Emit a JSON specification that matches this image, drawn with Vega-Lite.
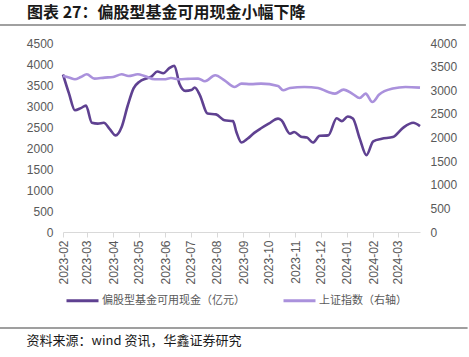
{
  "$schema": "https://vega.github.io/schema/vega-lite/v6.json",
  "width": 357,
  "height": 189,
  "autosize": {"type": "none"},
  "padding": {"left": 63, "top": 43, "right": 49, "bottom": 125},
  "background": "white",
  "config": {"view": {"stroke": null}, "font": "Liberation Sans"},
  "title": {
    "text": "图表 27：偏股型基金可用现金小幅下降",
    "anchor": "start",
    "frame": "group",
    "dx": -36,
    "font": "Noto Sans CJK SC",
    "fontSize": 16,
    "fontWeight": "bold",
    "color": "#1a1a1a",
    "offset": 3
  },
  "datasets": {
    "cash": [
      {"date": "2023-02-01", "value": 3750},
      {"date": "2023-02-08", "value": 3300},
      {"date": "2023-02-15", "value": 2900},
      {"date": "2023-02-22", "value": 2950},
      {"date": "2023-02-28", "value": 3010},
      {"date": "2023-03-07", "value": 2600},
      {"date": "2023-03-14", "value": 2580},
      {"date": "2023-03-21", "value": 2600},
      {"date": "2023-03-28", "value": 2450},
      {"date": "2023-04-04", "value": 2300},
      {"date": "2023-04-11", "value": 2500},
      {"date": "2023-04-18", "value": 3000},
      {"date": "2023-04-25", "value": 3420},
      {"date": "2023-05-02", "value": 3580},
      {"date": "2023-05-09", "value": 3650},
      {"date": "2023-05-16", "value": 3700},
      {"date": "2023-05-23", "value": 3820},
      {"date": "2023-05-30", "value": 3780},
      {"date": "2023-06-06", "value": 3900},
      {"date": "2023-06-12", "value": 3960},
      {"date": "2023-06-18", "value": 3530},
      {"date": "2023-06-25", "value": 3360},
      {"date": "2023-07-02", "value": 3380},
      {"date": "2023-07-06", "value": 3440},
      {"date": "2023-07-12", "value": 3260},
      {"date": "2023-07-21", "value": 2820},
      {"date": "2023-07-31", "value": 2800},
      {"date": "2023-08-10", "value": 2660},
      {"date": "2023-08-20", "value": 2640},
      {"date": "2023-08-24", "value": 2380},
      {"date": "2023-08-30", "value": 2130},
      {"date": "2023-09-06", "value": 2220},
      {"date": "2023-09-14", "value": 2360},
      {"date": "2023-09-22", "value": 2470},
      {"date": "2023-10-01", "value": 2580},
      {"date": "2023-10-12", "value": 2700},
      {"date": "2023-10-16", "value": 2660},
      {"date": "2023-10-26", "value": 2340},
      {"date": "2023-10-31", "value": 2380},
      {"date": "2023-11-08", "value": 2270},
      {"date": "2023-11-15", "value": 2250},
      {"date": "2023-11-22", "value": 2130},
      {"date": "2023-11-30", "value": 2290},
      {"date": "2023-12-10", "value": 2300},
      {"date": "2023-12-20", "value": 2710},
      {"date": "2023-12-26", "value": 2640},
      {"date": "2024-01-02", "value": 2750},
      {"date": "2024-01-08", "value": 2700},
      {"date": "2024-01-16", "value": 2230},
      {"date": "2024-01-24", "value": 1830},
      {"date": "2024-02-01", "value": 2160},
      {"date": "2024-02-11", "value": 2220},
      {"date": "2024-02-24", "value": 2260},
      {"date": "2024-03-07", "value": 2480},
      {"date": "2024-03-19", "value": 2600},
      {"date": "2024-03-27", "value": 2520}
    ],
    "sse": [
      {"date": "2023-02-01", "value": 3300},
      {"date": "2023-02-08", "value": 3270},
      {"date": "2023-02-15", "value": 3232},
      {"date": "2023-02-22", "value": 3280},
      {"date": "2023-03-01", "value": 3338},
      {"date": "2023-03-10", "value": 3247},
      {"date": "2023-03-22", "value": 3268},
      {"date": "2023-04-01", "value": 3280},
      {"date": "2023-04-11", "value": 3338},
      {"date": "2023-04-19", "value": 3302},
      {"date": "2023-04-30", "value": 3338},
      {"date": "2023-05-08", "value": 3302},
      {"date": "2023-05-20", "value": 3232},
      {"date": "2023-05-31", "value": 3232},
      {"date": "2023-06-08", "value": 3259},
      {"date": "2023-06-18", "value": 3232},
      {"date": "2023-06-28", "value": 3240},
      {"date": "2023-07-10", "value": 3247},
      {"date": "2023-07-18", "value": 3189},
      {"date": "2023-07-30", "value": 3316},
      {"date": "2023-08-10", "value": 3211},
      {"date": "2023-08-22", "value": 3069},
      {"date": "2023-08-30", "value": 3141},
      {"date": "2023-09-10", "value": 3130},
      {"date": "2023-09-22", "value": 3141},
      {"date": "2023-10-12", "value": 3090},
      {"date": "2023-10-18", "value": 2999},
      {"date": "2023-10-26", "value": 3048},
      {"date": "2023-11-12", "value": 3069},
      {"date": "2023-11-28", "value": 3048},
      {"date": "2023-12-10", "value": 2963},
      {"date": "2023-12-18", "value": 2929},
      {"date": "2023-12-28", "value": 3014},
      {"date": "2024-01-08", "value": 2920},
      {"date": "2024-01-16", "value": 2836},
      {"date": "2024-01-23", "value": 2929},
      {"date": "2024-01-31", "value": 2751},
      {"date": "2024-02-08", "value": 2908},
      {"date": "2024-02-24", "value": 3035},
      {"date": "2024-03-10", "value": 3069},
      {"date": "2024-03-27", "value": 3056}
    ]
  },
  "layer": [
    {
      "data": {"name": "cash"},
      "mark": {"type": "line", "interpolate": "monotone", "strokeWidth": 2.6},
      "encoding": {
        "x": {
          "field": "date",
          "type": "temporal",
          "scale": {
            "type": "utc",
            "nice": false,
            "domain": [
              {"year": 2023, "month": 2, "date": 1, "utc": true},
              {"year": 2024, "month": 3, "date": 27, "utc": true}
            ]
          },
          "axis": {
            "format": "%Y-%m",
            "labelAngle": -90,
            "tickCount": {"interval": "month", "step": 1},
            "grid": false,
            "domainColor": "#d9d9d9",
            "tickColor": "#d9d9d9",
            "tickSize": 5,
            "labelColor": "#595959",
            "labelFont": "Liberation Sans",
            "labelFontSize": 12,
            "labelPadding": 3,
            "title": "资料来源：wind 资讯，华鑫证券研究",
            "titleX": -37,
            "titleY": 108,
            "titleAngle": 0,
            "titleAlign": "left",
            "titleBaseline": "middle",
            "titleFont": "Noto Sans CJK SC",
            "titleFontSize": 13,
            "titleFontWeight": "normal",
            "titleColor": "#1a1a1a"
          }
        },
        "y": {
          "field": "value",
          "type": "quantitative",
          "scale": {"domain": [0, 4500], "nice": false},
          "axis": {
            "orient": "left",
            "values": [0, 500, 1000, 1500, 2000, 2500, 3000, 3500, 4000, 4500],
            "format": "d",
            "grid": false,
            "domain": false,
            "ticks": false,
            "labelPadding": 10,
            "labelColor": "#595959",
            "labelFont": "Liberation Sans",
            "labelFontSize": 12,
            "title": null
          }
        },
        "color": {
          "datum": "偏股型基金可用现金（亿元）",
          "scale": {
            "domain": ["偏股型基金可用现金（亿元）", "上证指数（右轴）"],
            "range": ["#5f4191", "#aa91dc"]
          },
          "legend": {
            "orient": "none",
            "legendX": 2,
            "legendY": 240,
            "direction": "horizontal",
            "columns": 2,
            "title": null,
            "symbolType": "stroke",
            "symbolSize": 1024,
            "symbolStrokeWidth": 3,
            "labelFont": "Noto Sans CJK SC",
            "labelFontSize": 11,
            "labelColor": "#595959",
            "labelOffset": 2,
            "columnPadding": 32
          }
        }
      }
    },
    {
      "data": {"name": "sse"},
      "mark": {"type": "line", "interpolate": "monotone", "strokeWidth": 2.6},
      "encoding": {
        "x": {"field": "date", "type": "temporal"},
        "y": {
          "field": "value",
          "type": "quantitative",
          "scale": {"domain": [0, 4000], "nice": false},
          "axis": {
            "orient": "right",
            "values": [0, 500, 1000, 1500, 2000, 2500, 3000, 3500, 4000],
            "format": "d",
            "grid": false,
            "domain": false,
            "ticks": false,
            "labelPadding": 10,
            "labelColor": "#595959",
            "labelFont": "Liberation Sans",
            "labelFontSize": 12,
            "title": null
          }
        },
        "color": {"datum": "上证指数（右轴）"}
      }
    },
    {
      "data": {"values": [{}]},
      "mark": {"type": "rule", "stroke": "#808080", "strokeWidth": 1.5},
      "encoding": {
        "x": {"datum": 1668643200000, "type": "temporal"},
        "x2": {"datum": 1716163200000},
        "y": {"datum": 4929, "type": "quantitative", "scale": {"domain": [0, 4500], "nice": false}, "axis": null}
      }
    },
    {
      "data": {"values": [{}]},
      "mark": {"type": "rule", "stroke": "#404040", "strokeWidth": 1.2},
      "encoding": {
        "x": {"datum": 1668643200000, "type": "temporal"},
        "x2": {"datum": 1716336000000},
        "y": {"datum": -2286, "type": "quantitative", "scale": {"domain": [0, 4500], "nice": false}, "axis": null}
      }
    }
  ],
  "resolve": {"scale": {"y": "independent"}}
}
